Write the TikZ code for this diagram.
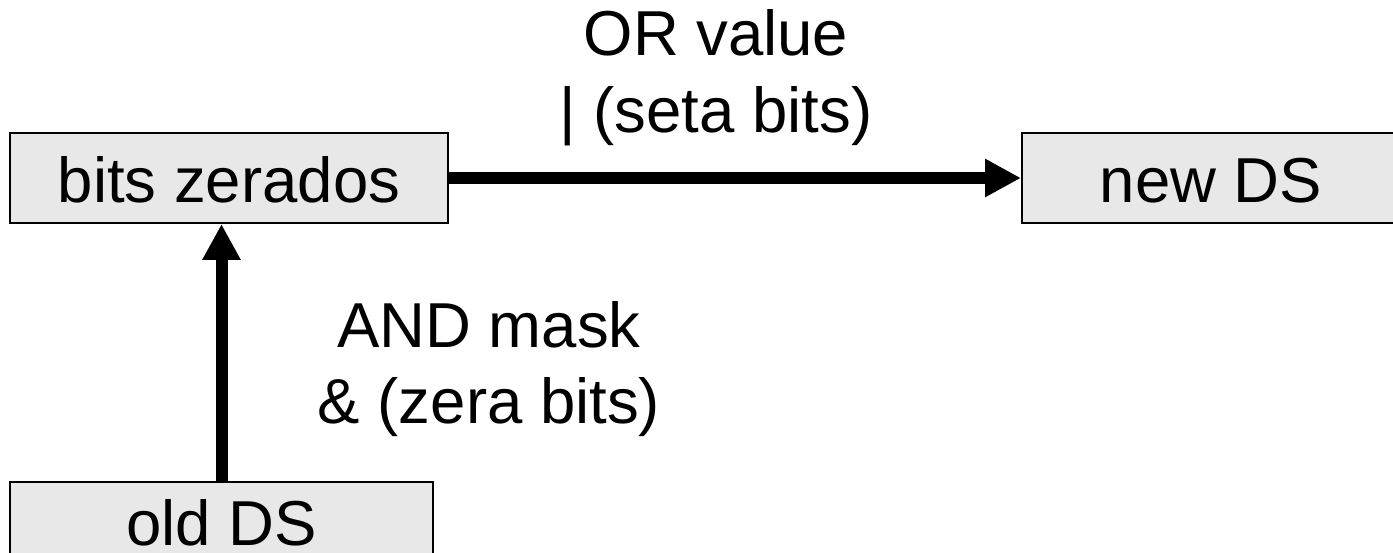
\documentclass[tikz,border=0pt]{standalone}
\usepackage{fontspec}
\setmainfont{Liberation Sans}
\usetikzlibrary{arrows.meta}
\definecolor{boxfill}{HTML}{E8E8E8}
\tikzset{
  stagebox/.style={draw=black, line width=2pt, fill=boxfill, inner sep=0pt,
    text height=50pt, text depth=0pt, font=\fontsize{63.5}{77}\selectfont},
  flow/.style={line width=12pt, -{Triangle[length=36pt,width=36pt]}},
  oplabel/.style={align=center, inner sep=0pt, font=\fontsize{63.5}{77}\selectfont}
}
\begin{document}
\begin{tikzpicture}[x=1pt,y=-1pt]
  \useasboundingbox (0,0) rectangle (1393,553);
  \node[stagebox, minimum width=438pt, minimum height=90pt] (bz) at (229,178) {bits zerados};
  \node[stagebox, minimum width=378pt, minimum height=90pt] (nds) at (1211,178) {new DS};
  \node[stagebox, minimum width=423pt, minimum height=76pt] (ods) at (221.5,520) {old DS};
  \draw[flow] (ods.north) -- (ods.north |- bz.south);
  \draw[flow] (bz.east) -- (nds.west);
  % the base anchor sits on the last line of each two-line label
  \node[oplabel, anchor=base] (orlbl) at (716,133) {OR value\\| (seta bits)};
  \node[oplabel, anchor=base] (andlbl) at (489,424) {AND mask\\\& (zera bits)};
\end{tikzpicture}
\end{document}
